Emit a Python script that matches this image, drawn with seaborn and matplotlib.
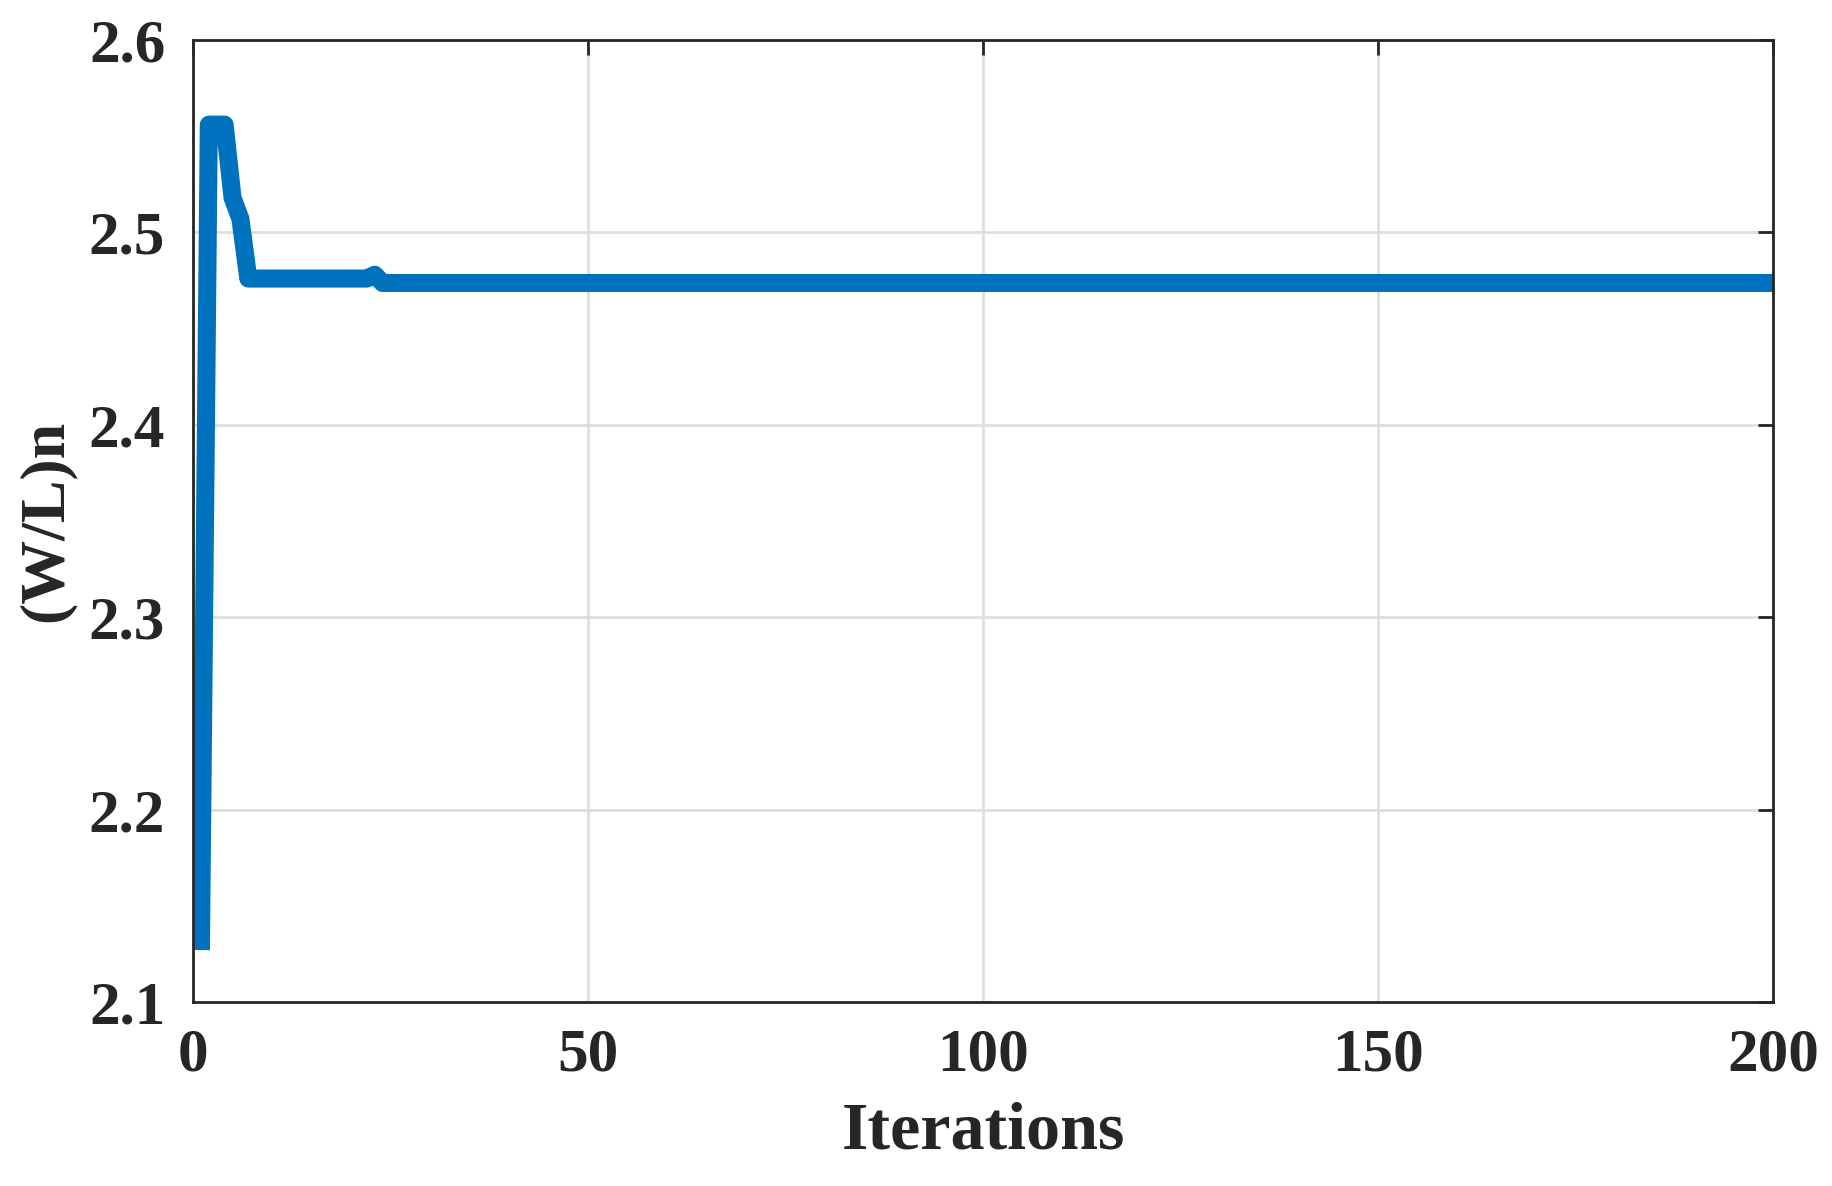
import seaborn as sns
import numpy as np
import pandas as pd
import matplotlib.pyplot as plt

# breakpoints of the convergence curve (flat between them)
iterations = [1, 2, 4, 5, 6, 7, 22, 23, 24, 200]
wl_n = [2.127, 2.556, 2.556, 2.518, 2.507, 2.476, 2.476, 2.478, 2.4737, 2.4737]

xticks = [0, 50, 100, 150, 200]
yticks = [2.1, 2.2, 2.3, 2.4, 2.5, 2.6]

df = pd.DataFrame({"Iterations": iterations, "WLn": wl_n})

sns.set_theme(style="white")
plt.rcParams['font.family'] = ['Liberation Serif', 'DejaVu Serif']
plt.rcParams['font.weight'] = 'bold'

fig = plt.figure(figsize=(18.33, 11.86), dpi=100)
ax = fig.add_axes([0.1053, 0.1551, 0.862, 0.8112])

sns.lineplot(data=df, x="Iterations", y="WLn", ax=ax, color="#0072BD",
             linewidth=13, solid_capstyle="butt", solid_joinstyle="round",
             clip_on=True)

ax.set_xlim(0, 200)
ax.set_ylim(2.1, 2.6)
ax.set_xticks(xticks)
ax.set_yticks(yticks)
ax.set_xticklabels([str(t) for t in xticks])
ax.set_yticklabels([f"{t:.1f}" for t in yticks])

ax.grid(True, color="#dedede", linewidth=2)
ax.set_axisbelow(True)
for s in ax.spines.values():
    s.set_color("#262626")
    s.set_linewidth(2)

ax.tick_params(direction="in", length=11, width=2, color="#262626",
               top=True, right=True, labelsize=44, labelcolor="#262626")
ax.tick_params(axis="x", pad=18)
ax.tick_params(axis="y", pad=20)
for lab in ax.get_xticklabels() + ax.get_yticklabels():
    lab.set_fontweight("bold")

ax.set_xlabel("Iterations", fontsize=49, fontweight="bold", color="#262626")
ax.set_ylabel("(W/L)n", fontsize=46, fontweight="bold", color="#262626")
ax.xaxis.set_label_coords(0.5, -0.103)
ax.yaxis.set_label_coords(-0.074, 0.5)

fig.savefig("out.png", dpi=100, facecolor="white")
